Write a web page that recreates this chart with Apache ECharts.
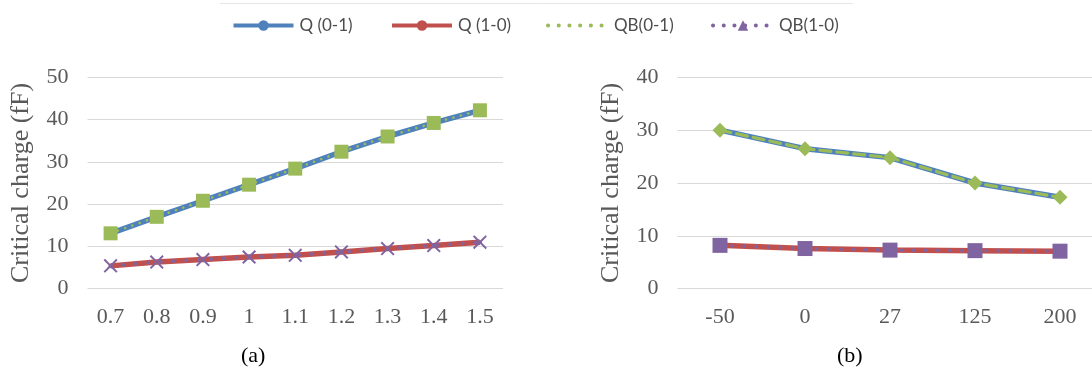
<!DOCTYPE html>
<html>
<head>
<meta charset="utf-8">
<script src="https://cdn.jsdelivr.net/npm/echarts@6/dist/echarts.min.js"></script>
<style>
  html, body { margin: 0; padding: 0; background: #fff; }
  #chart { width: 1092px; height: 380px; }
</style>
</head>
<body>
<div id="chart"></div>
<script>
// (a) critical charge versus supply voltage
const voltage = ['0.7', '0.8', '0.9', '1', '1.1', '1.2', '1.3', '1.4', '1.5'];
const q01Volt = [13.1, 17.0, 20.8, 24.6, 28.4, 32.4, 36.0, 39.2, 42.2];
const q10Volt = [5.4, 6.3, 6.9, 7.5, 7.9, 8.7, 9.5, 10.2, 11.0];
const qb01Volt = [13.1, 17.0, 20.8, 24.6, 28.4, 32.4, 36.0, 39.2, 42.2];
const qb10Volt = [5.4, 6.3, 6.9, 7.5, 7.9, 8.7, 9.5, 10.2, 11.0];

// (b) critical charge versus temperature
const temperature = ['-50', '0', '27', '125', '200'];
const q01Temp = [30.0, 26.5, 24.8, 20.0, 17.3];
const q10Temp = [8.2, 7.6, 7.3, 7.2, 7.1];
const qb01Temp = [30.0, 26.5, 24.8, 20.0, 17.3];
const qb10Temp = [8.2, 7.6, 7.3, 7.2, 7.1];

const legendNames = ['Q (0-1)', 'Q (1-0)', 'QB(0-1)', 'QB(1-0)'];

const BLUE = '#4F81BD', RED = '#C0504D', GREEN = '#9BBB59', PURPLE = '#8064A2';
const SERIF = '"Liberation Serif", "Times New Roman", serif';
const SANS = 'Lato, "Noto Sans", sans-serif';
const CROSS = 'path://M1,0L5,4L9,0L10,1L6,5L10,9L9,10L5,6L1,10L0,9L4,5L0,1Z';

const chart = echarts.init(document.getElementById('chart'), null, { renderer: 'canvas' });

function xAxisFor(idx, cats) {
  return {
    type: 'category', gridIndex: idx, data: cats, boundaryGap: true,
    axisLine: { show: false }, axisTick: { show: false },
    axisLabel: { color: '#595959', fontFamily: SERIF, fontSize: 22, margin: 18 }
  };
}
function yAxisFor(idx, max) {
  return {
    type: 'value', gridIndex: idx, min: 0, max: max, interval: 10,
    name: 'Critical charge (fF)', nameLocation: 'middle', nameGap: 53,
    nameTextStyle: { color: '#595959', fontFamily: SERIF, fontSize: 26 },
    axisLine: { show: false }, axisTick: { show: false },
    axisLabel: { color: '#595959', fontFamily: SERIF, fontSize: 22, margin: 19 },
    splitLine: { lineStyle: { color: '#D9D9D9', width: 1.2 } }
  };
}
function solid(name, idx, color, data) {
  return {
    name: name, type: 'line', xAxisIndex: idx, yAxisIndex: idx, data: data,
    symbol: 'circle', symbolSize: 4, z: 2, animation: false,
    lineStyle: { color: color, width: 5.5 }, itemStyle: { color: color }
  };
}
function overlay(name, idx, color, data, symbol, size, dash, width) {
  return {
    name: name, type: 'line', xAxisIndex: idx, yAxisIndex: idx, data: data,
    symbol: symbol, symbolSize: size, z: 3, animation: false,
    lineStyle: { color: color, width: width, type: dash, cap: 'round' },
    itemStyle: { color: color }
  };
}
function legendAt(left, name, lineStyle, itemStyle) {
  return {
    left: left, top: 17, padding: 0, itemWidth: 60, itemHeight: 13, itemGap: 0,
    selectedMode: false, data: [{ name: name, itemStyle: itemStyle }],
    lineStyle: lineStyle,
    textStyle: { color: '#4D4D4D', fontFamily: SANS, fontSize: 17, padding: [0, 0, 0, 1] }
  };
}

chart.setOption({
  backgroundColor: '#fff',
  animation: false,
  legend: [
    legendAt(231.5, legendNames[0], { width: 4 }),
    legendAt(390, legendNames[1], { width: 4 }),
    legendAt(546, legendNames[2], { width: 4, type: [0.1, 10.6], cap: 'round' }, { opacity: 0 }),
    legendAt(711, legendNames[3], { width: 4, type: [0.1, 10.6], cap: 'round' })
  ],
  grid: [
    { left: 87.5, top: 77.3, width: 415.5, height: 211.4, outerBoundsMode: 'none' },
    // the right panel runs past the page edge, so its last column is cut off
    { left: 677.5, top: 77.3, width: 425, height: 211.4, outerBoundsMode: 'none' }
  ],
  xAxis: [xAxisFor(0, voltage), xAxisFor(1, temperature)],
  yAxis: [yAxisFor(0, 50), yAxisFor(1, 40)],
  series: [
    // legend key for QB(1-0): dotted purple with a triangle marker
    { name: legendNames[3], type: 'line', xAxisIndex: 0, yAxisIndex: 0, data: [],
      symbol: 'triangle', lineStyle: { color: PURPLE, width: 3.5, type: 'dotted' },
      itemStyle: { color: PURPLE } },

    solid(legendNames[0], 0, BLUE, q01Volt),
    solid(legendNames[1], 0, RED, q10Volt),
    overlay(legendNames[2], 0, GREEN, qb01Volt, 'rect', 14, [0.1, 7.6], 2.6),
    overlay(legendNames[3], 0, PURPLE, qb10Volt, CROSS, 14, [0.1, 12.5], 3.6),

    solid(legendNames[0], 1, BLUE, q01Temp),
    solid(legendNames[1], 1, RED, q10Temp),
    overlay(legendNames[2], 1, GREEN, qb01Temp, 'diamond', 15, [11, 6], 3.2),
    overlay(legendNames[3], 1, PURPLE, qb10Temp, 'rect', 15, [0.1, 12], 3.6)
  ],
  graphic: [
    { type: 'line', shape: { x1: 220, y1: 3.5, x2: 853, y2: 3.5 },
      style: { stroke: '#E6E6E6', lineWidth: 1 }, silent: true },
    { type: 'text', left: 241, top: 345,
      style: { text: '(a)', fill: '#000', font: '22px ' + SERIF } },
    { type: 'text', left: 837, top: 345,
      style: { text: '(b)', fill: '#000', font: '22px ' + SERIF } }
  ]
});
</script>
</body>
</html>
